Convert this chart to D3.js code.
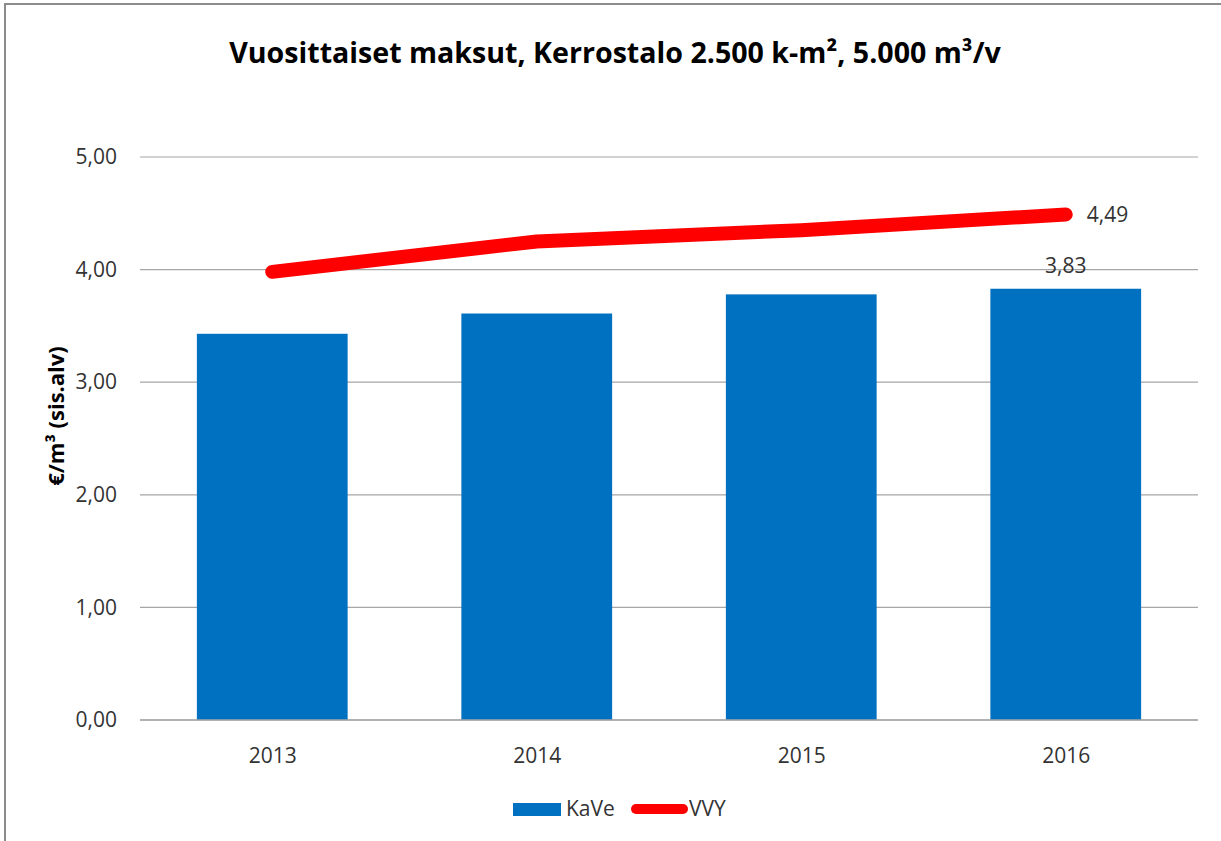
<!DOCTYPE html>
<html>
<head>
<meta charset="utf-8">
<script src="https://cdn.jsdelivr.net/npm/d3@7"></script>
<style>
  body { margin: 0; background: #fff; }
  text { font-family: "Open Sans", "Noto Sans", sans-serif; }
</style>
</head>
<body>
<div id="chart"></div>
<script>
// Chart data
const years = ["2013", "2014", "2015", "2016"];
const kave = [3.43, 3.61, 3.78, 3.83];
const vvy = [3.98, 4.25, 4.35, 4.49];
const yTicks = [0, 1, 2, 3, 4, 5];
const titleText = "Vuosittaiset maksut, Kerrostalo 2.500 k-m², 5.000 m³/v";
const yTitle = "€/m³ (sis.alv)";

const W = 1221, H = 841;
const margin = { top: 157, right: 23, bottom: 121, left: 140 };
const width = W - margin.left - margin.right;
const height = H - margin.top - margin.bottom;
const fs = 21;

const svg = d3.select("#chart").append("svg")
    .attr("width", W)
    .attr("height", H);

// outer frame (only left and top edges visible)
svg.append("path")
    .attr("d", `M5,${H} L5,4 L${W},4`)
    .attr("fill", "none")
    .attr("stroke", "#8c8c8c")
    .attr("stroke-width", 2);

const g = svg.append("g").attr("transform", `translate(${margin.left},${margin.top})`);

const x = d3.scaleBand().domain(years).range([0, width]).paddingInner(0.43).paddingOuter(0.215);
const xc = d3.scalePoint().domain(years).range([0, width]).padding(0.5);
const y = d3.scaleLinear().domain([0, 5]).range([height, 0]);

// gridlines
g.selectAll(".grid")
    .data(yTicks)
    .enter().append("line")
    .attr("x1", 0).attr("x2", width)
    .attr("y1", d => y(d)).attr("y2", d => y(d))
    .attr("stroke", "#a6a6a6")
    .attr("stroke-width", 1.2);

// y axis labels
const fmt = d => d3.format(".2f")(d).replace(".", ",");
g.append("g")
    .call(d3.axisLeft(y).tickValues(yTicks).tickFormat(fmt).tickSize(0).tickPadding(23))
    .call(a => a.select(".domain").remove())
    .selectAll("text")
    .attr("font-size", fs)
    .attr("fill", "#333");

// bars
g.selectAll(".bar")
    .data(years.map((yr, i) => ({ yr, v: kave[i] })))
    .enter().append("rect")
    .attr("x", d => x(d.yr))
    .attr("y", d => y(d.v))
    .attr("width", x.bandwidth())
    .attr("height", d => height - y(d.v))
    .attr("fill", "#0070c0");

// baseline
g.append("line")
    .attr("x1", 0).attr("x2", width)
    .attr("y1", height).attr("y2", height)
    .attr("stroke", "#a6a6a6")
    .attr("stroke-width", 1.5);

// x axis labels
g.append("g")
    .attr("transform", `translate(0,${height})`)
    .call(d3.axisBottom(xc).tickSize(0).tickPadding(28))
    .call(a => a.select(".domain").remove())
    .selectAll("text")
    .attr("font-size", fs)
    .attr("fill", "#333");

// line
const line = d3.line()
    .x((d, i) => xc(years[i]))
    .y(d => y(d));
g.append("path")
    .datum(vvy)
    .attr("d", line)
    .attr("fill", "none")
    .attr("stroke", "#ff0000")
    .attr("stroke-width", 14)
    .attr("stroke-linecap", "round")
    .attr("stroke-linejoin", "round");

// data labels for last points
const last = years.length - 1;
g.append("text")
    .attr("x", xc(years[last]) + 21)
    .attr("y", y(vvy[last]) + 8)
    .attr("font-size", fs)
    .attr("fill", "#333")
    .text(fmt(vvy[last]));
g.append("text")
    .attr("x", xc(years[last]))
    .attr("y", y(kave[last]) - 16)
    .attr("text-anchor", "middle")
    .attr("font-size", fs)
    .attr("fill", "#333")
    .text(fmt(kave[last]));

// title
svg.append("text")
    .attr("x", 615)
    .attr("y", 63)
    .attr("text-anchor", "middle")
    .attr("font-size", 28.6)
    .attr("font-weight", "bold")
    .attr("fill", "#000")
    .text(titleText);

// y axis title
svg.append("text")
    .attr("transform", "translate(64,416) rotate(-90)")
    .attr("text-anchor", "middle")
    .attr("font-size", 22)
    .attr("font-weight", "bold")
    .attr("fill", "#000")
    .text(yTitle);

// legend
const legend = svg.append("g").attr("transform", "translate(513,809)");
legend.append("rect")
    .attr("x", 0).attr("y", -6)
    .attr("width", 48).attr("height", 13)
    .attr("fill", "#0070c0");
legend.append("text")
    .attr("x", 53).attr("y", 7)
    .attr("font-size", fs)
    .attr("fill", "#333")
    .text("KaVe");
legend.append("line")
    .attr("x1", 123).attr("x2", 170)
    .attr("y1", 0).attr("y2", 0)
    .attr("stroke", "#ff0000")
    .attr("stroke-width", 10)
    .attr("stroke-linecap", "round");
legend.append("text")
    .attr("x", 176).attr("y", 7)
    .attr("font-size", fs)
    .attr("fill", "#333")
    .text("VVY");
</script>
</body>
</html>
